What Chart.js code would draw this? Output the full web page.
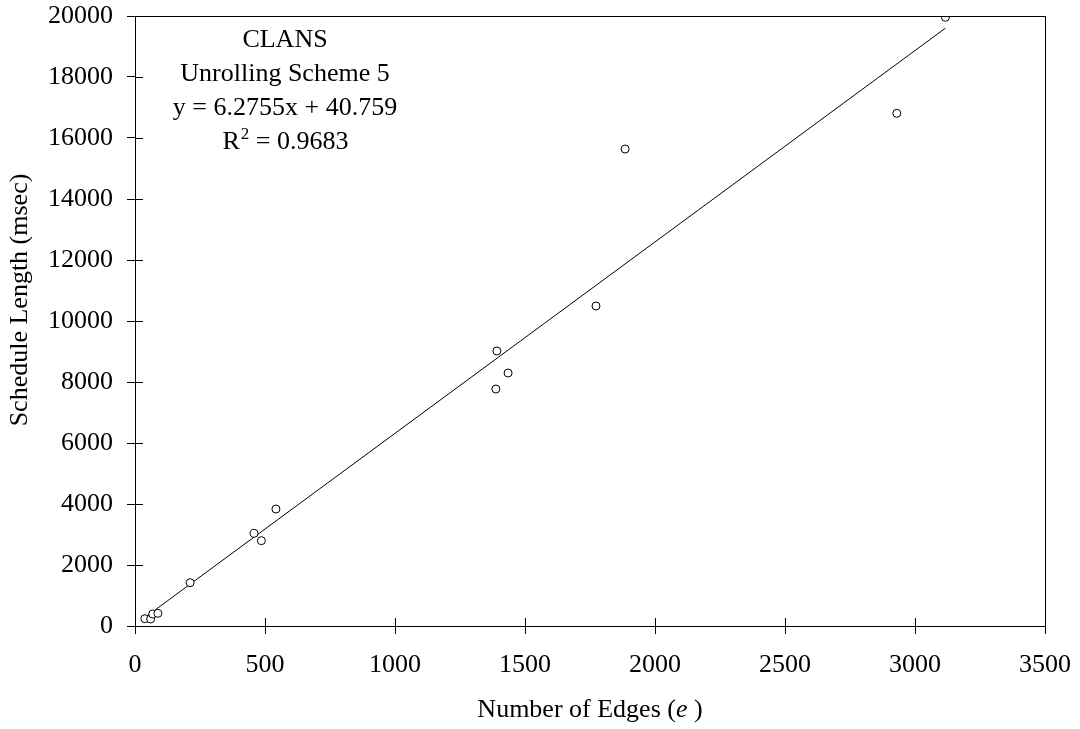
<!DOCTYPE html>
<html>
<head>
<meta charset="utf-8">
<script src="https://cdn.jsdelivr.net/npm/chart.js@4.4.1/dist/chart.umd.min.js"></script>
<style>
  html, body { margin: 0; padding: 0; background: #fff; }
  #wrap { width: 1080px; height: 729px; }
</style>
</head>
<body>
<div id="wrap"><canvas id="c"></canvas></div>
<script>
// edges vs schedule length
const edges = [38, 60, 68, 88, 212, 458, 486, 542, 1388, 1392, 1435, 1773, 1885, 2930, 3117];
const schedLen = [240, 230, 393, 416, 1420, 3039, 2797, 3836, 7770, 9016, 8295, 10492, 15639, 16810, 19957];

const slope = 6.2755;
const intercept = 40.759;
const fitX = [Math.min(...edges), Math.max(...edges)];

const noteLines = ['CLANS', 'Unrolling Scheme 5', 'y = 6.2755x + 40.759'];

const serif = '"Liberation Serif", "Times New Roman", serif';
const TICK = 8;

// frame, cross ticks, the note and the axis titles
const decor = {
  id: 'decor',
  afterDraw(chart) {
    const { ctx, chartArea: a, scales } = chart;
    ctx.save();
    ctx.strokeStyle = '#000';
    ctx.lineWidth = 1;
    ctx.strokeRect(a.left + 0.5, a.top + 0.5, a.right - a.left, a.bottom - a.top);

    ctx.beginPath();
    scales.x.ticks.forEach(t => {
      const px = Math.round(scales.x.getPixelForValue(t.value)) + 0.5;
      ctx.moveTo(px, a.bottom);
      ctx.lineTo(px, a.bottom - TICK);
    });
    scales.y.ticks.forEach(t => {
      const py = Math.round(scales.y.getPixelForValue(t.value)) + 0.5;
      ctx.moveTo(a.left, py);
      ctx.lineTo(a.left + TICK, py);
    });
    ctx.stroke();

    ctx.fillStyle = '#000';
    ctx.font = '26px ' + serif;
    ctx.textAlign = 'center';
    ctx.textBaseline = 'alphabetic';
    const cx = 285;
    ctx.fillText(noteLines[0], cx, 47);
    ctx.fillText(noteLines[1], cx, 81);
    ctx.fillText(noteLines[2], cx, 115);
    // R² with a raised 2
    const r1 = 'R', r2 = ' = 0.9683';
    const w1 = ctx.measureText(r1).width;
    ctx.font = '17px ' + serif;
    const ws = ctx.measureText('2').width;
    ctx.font = '26px ' + serif;
    const w2 = ctx.measureText(r2).width;
    let x0 = cx - (w1 + ws + w2) / 2;
    ctx.textAlign = 'left';
    ctx.fillText(r1, x0, 149);
    ctx.font = '17px ' + serif;
    ctx.fillText('2', x0 + w1 + 1, 139);
    ctx.font = '26px ' + serif;
    ctx.fillText(r2, x0 + w1 + ws + 1, 149);

    // x axis title
    const t1 = 'Number of Edges (', t2 = 'e', t3 = ' )';
    ctx.font = '26px ' + serif;
    const a1 = ctx.measureText(t1).width, a3 = ctx.measureText(t3).width;
    ctx.font = 'italic 26px ' + serif;
    const a2 = ctx.measureText(t2).width;
    x0 = (a.left + a.right) / 2 - (a1 + a2 + a3) / 2;
    const ty = 717;
    ctx.font = '26px ' + serif;
    ctx.fillText(t1, x0, ty);
    ctx.font = 'italic 26px ' + serif;
    ctx.fillText(t2, x0 + a1, ty);
    ctx.font = '26px ' + serif;
    ctx.fillText(t3, x0 + a1 + a2, ty);

    // y axis title
    ctx.translate(27, 300);
    ctx.rotate(-Math.PI / 2);
    ctx.textAlign = 'center';
    ctx.fillText('Schedule Length (msec)', 0, 0);
    ctx.restore();
  }
};

// keep the plot box where the reference has it
function noPad(s) {
  s.paddingTop = 0; s.paddingBottom = 0; s.paddingLeft = 0; s.paddingRight = 0;
}

new Chart(document.getElementById('c'), {
  type: 'scatter',
  data: {
    datasets: [{
      label: 'CLANS',
      data: edges.map((e, i) => ({ x: e, y: schedLen[i] })),
      pointStyle: 'circle',
      pointRadius: 4,
      pointBackgroundColor: '#fff',
      pointBorderColor: '#000',
      pointBorderWidth: 1,
      order: 1
    }, {
      label: 'fit',
      type: 'line',
      data: fitX.map(x => ({ x, y: slope * x + intercept })),
      borderColor: '#000',
      borderWidth: 1,
      pointRadius: 0,
      fill: false,
      order: 2
    }]
  },
  options: {
    responsive: true,
    maintainAspectRatio: false,
    animation: false,
    layout: { padding: { top: 16, right: 35, left: 0, bottom: 0 } },
    plugins: { legend: { display: false }, tooltip: { enabled: false } },
    scales: {
      x: {
        type: 'linear',
        min: 0, max: 3500,
        afterFit(s) { s.height = 103; noPad(s); },
        ticks: { stepSize: 500, color: '#000', font: { family: serif, size: 26 }, padding: 16, callback: v => String(v) },
        grid: { drawOnChartArea: false, drawTicks: true, tickLength: TICK, color: '#000' },
        border: { display: true, color: '#000' }
      },
      y: {
        min: 0, max: 20000,
        afterFit(s) { s.width = 135; noPad(s); },
        ticks: { stepSize: 2000, color: '#000', font: { family: serif, size: 26 }, padding: 14, callback: v => String(v) },
        grid: { drawOnChartArea: false, drawTicks: true, tickLength: TICK, color: '#000' },
        border: { display: true, color: '#000' }
      }
    }
  },
  plugins: [decor]
});
</script>
</body>
</html>
